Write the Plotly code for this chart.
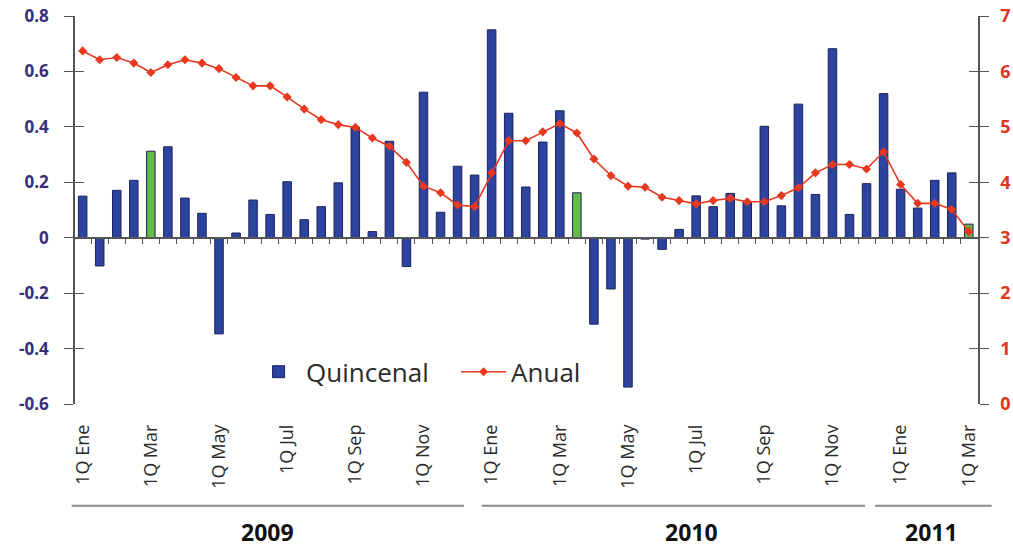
import plotly.graph_objects as go

# ---------------- data ----------------
meses = ["Ene", "Feb", "Mar", "Abr", "May", "Jun", "Jul", "Ago", "Sep", "Oct", "Nov", "Dic"]
anios = [2009, 2010, 2011]
periodos = [f"{q}Q {m} {a}" for a in anios for m in meses for q in (1, 2)][:53]

quincenal = [0.150, -0.102, 0.171, 0.207, 0.312, 0.328, 0.143, 0.088, -0.347, 0.017,
             0.136, 0.084, 0.202, 0.065, 0.112, 0.198, 0.399, 0.022, 0.348, -0.104,
             0.525, 0.092, 0.258, 0.226,
             0.750, 0.449, 0.183, 0.345, 0.458, 0.162, -0.312, -0.185, -0.539, -0.005,
             -0.042, 0.030, 0.151, 0.112, 0.160, 0.130, 0.402, 0.115, 0.482, 0.156,
             0.682, 0.084, 0.195, 0.520,
             0.175, 0.107, 0.207, 0.234, 0.049]

anual = [6.37, 6.21, 6.25, 6.15, 5.98, 6.12, 6.21, 6.15, 6.05, 5.89,
         5.74, 5.74, 5.54, 5.32, 5.13, 5.04, 4.99, 4.80, 4.65, 4.36,
         3.93, 3.81, 3.59, 3.56,
         4.17, 4.75, 4.75, 4.91, 5.06, 4.89, 4.42, 4.12, 3.93, 3.91,
         3.73, 3.67, 3.61, 3.67, 3.71, 3.65, 3.65, 3.76, 3.90, 4.17,
         4.32, 4.32, 4.24, 4.55,
         3.96, 3.62, 3.62, 3.51, 3.11]

destacados = ["1Q Mar 2009", "2Q Mar 2010", "1Q Mar 2011"]

tick_labels = ["1Q Ene", "1Q Mar", "1Q May", "1Q Jul", "1Q Sep", "1Q Nov",
               "1Q Ene", "1Q Mar", "1Q May", "1Q Jul", "1Q Sep", "1Q Nov",
               "1Q Ene", "1Q Mar"]
tick_periodos = periodos[::4]

y_left_vals = [-0.6, -0.4, -0.2, 0, 0.2, 0.4, 0.6, 0.8]
y_left_text = ["-0.6", "-0.4", "-0.2", "0", "0.2", "0.4", "0.6", "0.8"]
y_right_vals = [0, 1, 2, 3, 4, 5, 6, 7]
y_right_text = ["0", "1", "2", "3", "4", "5", "6", "7"]

year_labels = ["2009", "2010", "2011"]

# ---------------- styling / layout constants ----------------
BLUE = "#2c44a0"
GREEN = "#63bb4a"
RED = "#e8381f"
AXIS = "#555555"
X0, X1 = -0.45, 52.54
YL0, YL1 = -0.6, 0.8
YR0, YR1 = 0, 7

year_center = [10.87, 35.7, 49.8]
year_line_from = [-0.645, 23.41, 46.5]
year_line_to = [22.38, 45.91, 53.34]


def xpaper(v):
    return (v - X0) / (X1 - X0)


bar_colors = [GREEN if p in destacados else BLUE for p in periodos]

fig = go.Figure()
fig.add_trace(go.Bar(
    x=periodos, y=quincenal, name="Quincenal", width=0.5,
    marker=dict(color=bar_colors, line=dict(color="#1c2358", width=1)),
    xaxis="x", yaxis="y"))
fig.add_trace(go.Scatter(
    x=periodos, y=anual, name="Anual", mode="lines+markers",
    line=dict(color=RED, width=1.6),
    marker=dict(symbol="diamond", size=7, color=RED),
    xaxis="x", yaxis="y2"))

# helper traces (no visible points) so the decorative axes are drawn
for xa, ya in (("x2", "y"), ("x", "y3"), ("x", "y4")):
    fig.add_trace(go.Scatter(x=[0], y=[None], xaxis=xa, yaxis=ya, mode="markers",
                             showlegend=False, hoverinfo="skip"))

shapes = [dict(type="line", xref="paper", yref="paper",
               x0=xpaper(a), x1=xpaper(b), y0=-0.262, y1=-0.262,
               line=dict(color="#8a8a8a", width=2))
          for a, b in zip(year_line_from, year_line_to)]

annotations = [dict(x=c, y=-0.331, xref="x", yref="paper", text=t,
                    showarrow=False, xanchor="center", yanchor="middle",
                    font=dict(size=23, color="#111111", weight="bold"))
               for c, t in zip(year_center, year_labels)]

fig.update_layout(
    width=1013, height=549,
    margin=dict(l=75, r=35, t=16, b=145, pad=0, autoexpand=False),
    paper_bgcolor="white", plot_bgcolor="white",
    font=dict(family="Open Sans, DejaVu Sans, sans-serif", color="#2b2b2b"),
    showlegend=True,
    legend=dict(orientation="h", x=0.195, y=0.083, xanchor="left", yanchor="middle",
                font=dict(size=26, color="#2b2b2b"), bgcolor="rgba(0,0,0,0)",
                itemwidth=45, entrywidth=145, entrywidthmode="pixels",
                tracegroupgap=0),
    xaxis=dict(type="category", range=[X0, X1], tickmode="array",
               tickvals=tick_periodos, ticktext=tick_labels, tickangle=-90,
               showline=False, ticks="", showgrid=False, zeroline=False,
               automargin=False,
               tickfont=dict(size=18, color="#2a2a2a"), ticklabelstandoff=16),
    xaxis2=dict(overlaying="x", anchor="free", position=(0 - YL0) / (YL1 - YL0),
                side="bottom", range=[X0, X1], showline=True, linecolor=AXIS,
                linewidth=1.5, ticks="outside", ticklen=6, tickwidth=1,
                tickcolor=AXIS, tickmode="array", automargin=False,
                tickvals=[i + 0.5 for i in range(len(periodos) - 1)],
                showticklabels=False, showgrid=False, zeroline=False),
    yaxis=dict(range=[YL0, YL1], tickmode="array", tickvals=y_left_vals,
               ticktext=y_left_text, ticks="outside", ticklen=9, tickwidth=1.2,
               tickcolor=AXIS, showline=True, linecolor=AXIS, linewidth=1.5,
               showgrid=False, zeroline=True, zerolinecolor=AXIS, zerolinewidth=1.5,
               ticklabelstandoff=12, automargin=False,
               tickfont=dict(size=17, color="#36307a", weight="bold")),
    yaxis3=dict(overlaying="y", anchor="x", side="left", range=[YL0, YL1],
                tickmode="array", tickvals=y_left_vals, ticks="inside", ticklen=9,
                tickwidth=1.2, tickcolor=AXIS, showticklabels=False, automargin=False,
                showline=False, showgrid=False, zeroline=False),
    yaxis2=dict(overlaying="y", anchor="x", side="right", range=[YR0, YR1],
                tickmode="array", tickvals=y_right_vals, ticktext=y_right_text,
                ticks="outside", ticklen=9, tickwidth=1.2, tickcolor=AXIS,
                showline=True, linecolor=AXIS, linewidth=1.5, showgrid=False,
                zeroline=False, ticklabelstandoff=8, automargin=False,
                tickfont=dict(size=18, color="#e0351e", weight="bold")),
    yaxis4=dict(overlaying="y", anchor="x", side="right", range=[YR0, YR1],
                tickmode="array", tickvals=y_right_vals, ticks="inside", ticklen=9,
                tickwidth=1.2, tickcolor=AXIS, showticklabels=False, automargin=False,
                showline=False, showgrid=False, zeroline=False),
    shapes=shapes,
    annotations=annotations,
)

fig.write_html("out.html", config={"displayModeBar": False},
               post_script="document.body.style.margin='0';")
